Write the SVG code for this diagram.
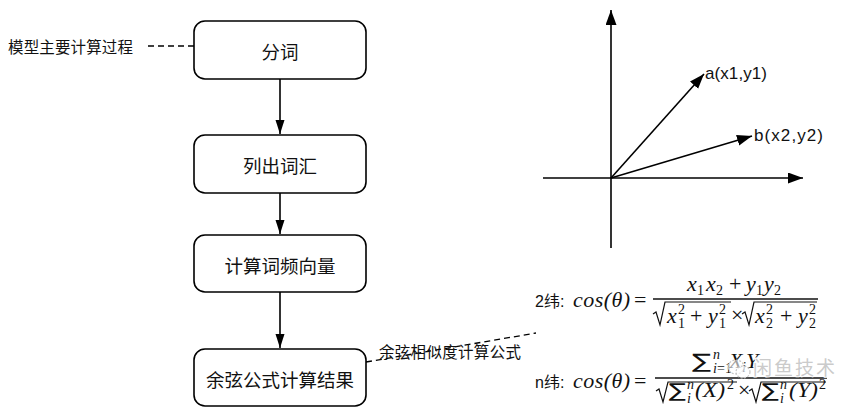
<svg xmlns="http://www.w3.org/2000/svg" width="865" height="409" viewBox="0 0 865 409">
<style>
.box{fill:#fff;stroke:#000;stroke-width:1.6}
.bt{font-family:"Noto Sans CJK SC","Liberation Sans",sans-serif;font-size:18.5px;fill:#111;text-anchor:middle;dominant-baseline:central}
.lbl{font-family:"Noto Sans CJK SC","Liberation Sans",sans-serif;font-size:15.5px;fill:#111}
.vl{font-family:"Liberation Sans","Noto Sans",sans-serif;font-size:17px;fill:#111}
.dl{font-family:"Liberation Sans","Noto Sans CJK SC",sans-serif;font-size:16px;fill:#111}
.ln{fill:none;stroke:#000;stroke-width:1.6}
.dash{fill:none;stroke:#000;stroke-width:1.3;stroke-dasharray:6 4}
.m{font-family:"Liberation Serif","DejaVu Serif",serif;font-style:italic;font-size:22px;fill:#111}
.u{font-family:"Liberation Serif","DejaVu Serif",serif;font-size:22px;fill:#111}
.s{font-family:"Liberation Serif","DejaVu Serif",serif;font-size:14px;fill:#111}
.si{font-family:"Liberation Serif","DejaVu Serif",serif;font-style:italic;font-size:14px;fill:#111}
.sum{font-family:"DejaVu Sans","Liberation Serif",serif;fill:#111}
.rad{fill:none;stroke:#111;stroke-width:1.2}
.wm{font-family:"Noto Sans CJK SC",sans-serif;font-size:19px;fill:#c4c4c4;fill-opacity:0.9}
</style>
<defs>
<marker id="ah" markerUnits="userSpaceOnUse" markerWidth="14" markerHeight="10" refX="14" refY="4.5" orient="auto">
<path d="M0,0 L14,4.5 L0,9 z" fill="#000"/>
</marker>
<marker id="ax" markerUnits="userSpaceOnUse" markerWidth="16" markerHeight="12" refX="15" refY="5.5" orient="auto">
<path d="M0,0 L15,5.5 L0,11 z" fill="#000"/>
</marker>
</defs>

<g id="connectors">
<line class="ln" x1="280" y1="79" x2="280" y2="134" marker-end="url(#ah)"/>
<line class="ln" x1="280" y1="193" x2="280" y2="234" marker-end="url(#ah)"/>
<line class="ln" x1="280" y1="292" x2="280" y2="348" marker-end="url(#ah)"/>
<line class="dash" x1="148" y1="46" x2="194" y2="46"/>
<line class="dash" x1="366" y1="362" x2="536" y2="333"/>
</g>

<g id="label-main">
<text class="lbl" x="8" y="46" dominant-baseline="central" textLength="125">模型主要计算过程</text>
</g>

<g id="node-fenci">
<rect class="box" x="194" y="21" width="172" height="58" rx="11"/>
<text class="bt" x="280" y="51">分词</text>
</g>
<g id="node-liechu">
<rect class="box" x="194" y="135" width="172" height="58" rx="11"/>
<text class="bt" x="280" y="165">列出词汇</text>
</g>
<g id="node-jisuan">
<rect class="box" x="194" y="235" width="172" height="57" rx="11"/>
<text class="bt" x="280" y="265">计算词频向量</text>
</g>
<g id="node-jieguo">
<rect class="box" x="194" y="349" width="172" height="57" rx="11"/>
<text class="bt" x="280" y="379">余弦公式计算结果</text>
</g>

<g id="label-cos">
<text class="lbl" x="379" y="351" dominant-baseline="central" textLength="142">余弦相似度计算公式</text>
</g>

<g id="axes">
<line class="ln" x1="611" y1="248" x2="611" y2="10" marker-end="url(#ax)"/>
<line class="ln" x1="543" y1="178" x2="803" y2="178" marker-end="url(#ax)"/>
<line class="ln" x1="611" y1="178" x2="704" y2="74" marker-end="url(#ax)"/>
<line class="ln" x1="611" y1="178" x2="752" y2="136" marker-end="url(#ax)"/>
<text class="vl" x="705" y="79" textLength="62">a(x1,y1)</text>
<text class="vl" x="754" y="141" textLength="69">b(x2,y2)</text>
</g>

<g id="formula-2d">
<text class="dl" x="535" y="307">2纬:</text>
<text class="m" x="573" y="307" textLength="57">cos(θ)</text>
<text class="u" x="634" y="307">=</text>
<text class="m" x="687" y="291">x</text><text class="s" x="697" y="295">1</text>
<text class="m" x="706" y="291">x</text><text class="s" x="716" y="295">2</text>
<text class="u" x="729" y="291">+</text>
<text class="m" x="746" y="291">y</text><text class="s" x="756" y="295">1</text>
<text class="m" x="764" y="291">y</text><text class="s" x="774" y="295">2</text>
<line x1="653" y1="299" x2="818" y2="299" stroke="#111" stroke-width="1.3"/>
<path class="rad" d="M653,314 L656,312 L660,325 L665,302 L731,302"/>
<text class="m" x="667" y="323">x</text><text class="s" x="678" y="314">2</text><text class="s" x="678" y="328">1</text>
<text class="u" x="690" y="323">+</text>
<text class="m" x="708" y="323">y</text><text class="s" x="719" y="314">2</text><text class="s" x="719" y="328">1</text>
<text class="u" x="731" y="322" font-size="18">×</text>
<path class="rad" d="M742,314 L745,312 L749,325 L754,302 L817,302"/>
<text class="m" x="755" y="323">x</text><text class="s" x="766" y="314">2</text><text class="s" x="766" y="328">2</text>
<text class="u" x="780" y="323">+</text>
<text class="m" x="798" y="323">y</text><text class="s" x="809" y="314">2</text><text class="s" x="809" y="328">2</text>
</g>

<g id="formula-nd">
<text class="dl" x="535" y="388">n纬:</text>
<text class="m" x="573" y="388" textLength="57">cos(θ)</text>
<text class="u" x="634" y="388">=</text>
<text class="sum" x="692" y="368" font-size="20" textLength="19" lengthAdjust="spacingAndGlyphs">∑</text>
<text class="si" x="713" y="359">n</text><text class="si" x="713" y="373" font-size="11">i</text><text class="s" x="717" y="373" font-size="11">=1</text>
<text class="m" x="729" y="368">X</text><text class="si" x="742" y="372">i</text>
<text class="m" x="746" y="368">Y</text><text class="si" x="759" y="372">i</text>
<line x1="655" y1="378" x2="827" y2="378" stroke="#111" stroke-width="1.3"/>
<path class="rad" d="M656,391 L659,389 L663,402 L668,382 L737,382"/>
<text class="sum" x="669" y="397" font-size="19" textLength="17" lengthAdjust="spacingAndGlyphs">∑</text>
<text class="si" x="687" y="389">n</text><text class="si" x="687" y="403">i</text>
<text class="m" x="695" y="397" textLength="30" lengthAdjust="spacingAndGlyphs">(X)</text>
<text class="s" x="727" y="389">2</text>
<text class="u" x="738" y="397" font-size="18">×</text>
<path class="rad" d="M749,391 L752,389 L756,402 L761,382 L826,382"/>
<text class="sum" x="762" y="397" font-size="19" textLength="17" lengthAdjust="spacingAndGlyphs">∑</text>
<text class="si" x="780" y="389">n</text><text class="si" x="780" y="403">i</text>
<text class="m" x="789" y="397" textLength="29" lengthAdjust="spacingAndGlyphs">(Y)</text>
<text class="s" x="819" y="389">2</text>
</g>

<g id="watermark">
<ellipse cx="736" cy="367" rx="8" ry="7" fill="#fff" fill-opacity="0.6" stroke="#c4c4c4" stroke-width="1.2" stroke-dasharray="2 1.5"/>
<ellipse cx="743" cy="372" rx="7" ry="6" fill="#fff" fill-opacity="0.6" stroke="#c4c4c4" stroke-width="1.2" stroke-dasharray="2 1.5"/>
<text class="wm" x="753" y="375" stroke="#fff" stroke-width="2" paint-order="stroke" textLength="82">闲鱼技术</text>
</g>
</svg>
